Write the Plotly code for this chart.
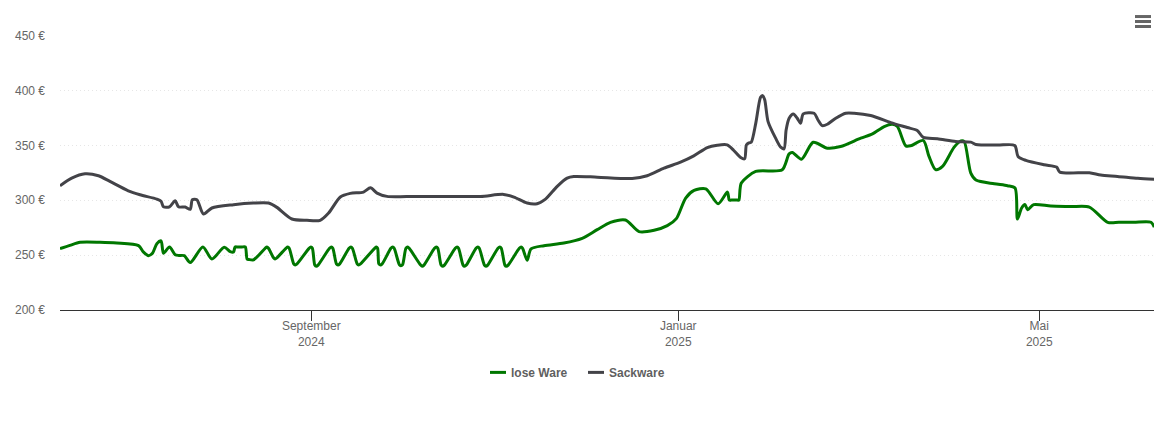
import pandas as pd
import plotly.graph_objects as go

green_days = [0, 3.3, 6.7, 13.3, 18.9, 26.1, 27.7, 29.4, 30.8, 32.2, 33.6, 34.4, 36.4, 38.3, 39.5, 41.3, 43.3, 47.5, 50.5, 54.6, 56.6, 57.7, 58.2, 59, 60.5, 61.6, 62.2, 62.8, 64.3,
              68.2, 68.8, 69.3, 71, 71.5, 72.1, 75.1, 75.7, 76.2, 77.7, 78.2, 78.8, 82.8, 83.4, 83.9, 84.7, 85.2, 85.8, 89.6, 90.2, 90.7, 91.9, 92.4, 93, 96.1, 96.7, 97.2, 98.8, 99.3, 99.9, 104.6, 105.2, 105.6, 106, 106.5, 107.1, 110, 110.6, 111.1, 112.8, 113.3, 113.9, 115, 115.6, 116.1, 119.9, 120.4, 121, 124.5, 125.1, 125.6, 126.7, 127.2, 127.8, 131.4, 132, 132.5, 134, 134.5, 135.1, 138.3, 138.9, 139.4, 141.1, 141.6, 142.2, 145.6, 146.2, 146.7, 147.9, 148.4, 149, 152.7, 153.3, 153.8,
              155.3, 156.6, 160.9, 167.5, 173.6, 178.6, 183, 188, 192.5, 197.5, 201.9, 204.9, 208, 210.8, 214.7, 218.8, 221.9, 222.5, 223.2, 225.2, 225.7, 226.5, 231.3, 240.1, 242.4, 243.5, 246.5, 250.4, 255.1, 259.5, 266.2, 270.1, 274, 276.7, 278.4, 281.2, 282.8, 287, 288.9, 291.1, 293.4, 297.2, 299.5, 300.6, 302.8, 304.5, 310.6, 315, 317.5, 318.3, 319.7, 320.8, 321.7, 323.7, 329.4, 336, 342.2, 348.3, 352, 357, 362.7, 363.8]
green_vals = [255.9, 258.9, 261.7, 261.7, 261, 258.6, 252.9, 249.5, 252, 260.4, 262.9, 251.7, 257.4, 250.4, 249.7, 249.5, 243.2, 257.4, 246.5, 257.1, 253.2, 252.9, 257.4, 257.4, 257.4, 257.4, 246.5, 246, 245.6,
              256.2, 257.4, 256.2, 247.5, 246.5, 247.5, 256.2, 257.4, 256.2, 242, 241, 242, 256.2, 257.4, 256.2, 240.9, 239.8, 240.9, 256.2, 257.4, 256.2, 242, 241, 242, 256.2, 257.4, 256.2, 242, 241, 242, 256.2, 257.4, 256.2, 242, 241, 242, 256.2, 257.4, 256.2, 241.4, 240.4, 241.4, 256.2, 257.4, 256.2, 240.9, 239.8, 240.9, 256.2, 257.4, 256.2, 240.9, 239.8, 240.9, 256.2, 257.4, 256.2, 240.9, 239.8, 240.9, 256.2, 257.4, 256.2, 240.9, 239.8, 240.9, 256.2, 257.4, 256.2, 240.9, 239.8, 240.9, 256.2, 257.4, 256.2,
              245.3, 255.6, 258.6, 261, 265.3, 273.2, 279.8, 282, 271.4, 272.6, 276.8, 283.2, 302, 309, 310.4, 296.8, 307.4, 300.1, 300.1, 300.1, 300.1, 315.6, 326.2, 327.7, 342.2, 343.4, 337.4, 352.8, 347.4, 348.9, 356.5, 360.4, 367.1, 369.2, 367.1, 349.5, 349.6, 354.4, 339.9, 327.8, 330.8, 348.1, 354.1, 353.5, 324.7, 318.4, 315, 313.2, 311.1, 282.9, 292.9, 296, 291.4, 296, 294.7, 294.2, 293.8, 279.9, 279.9, 279.9, 279.9, 275.4]

grey_days = [0, 3.9, 8.3, 12.8, 16.6, 22.7, 26.6, 32.2, 33.6, 34.4, 36.4, 38.3, 39.4, 41.6, 43.3, 44, 45.5, 47.7, 50.5, 57.7, 64.3, 69.3, 72.1, 77.1, 82.1, 86.5, 89.3, 93.2, 96.5, 100.9, 103.2, 105.4, 108.7, 118, 128, 139.8, 147.5, 150.9, 155.3, 158.6, 161.4, 165.3, 168.6, 170.8, 178.6, 190.2, 195.2, 200.8, 206.3, 210.7, 215.2, 218.5, 221.8, 224, 226.3, 227.6, 228.2, 229, 229.8, 231.3, 232.9, 233.6, 234.3, 235.4, 237.9, 239.6, 240.7, 241.4, 242.4, 243.8, 245.1, 246.2, 247.1, 250.7, 252, 253.4, 255.1, 257.9, 261.2, 264, 269.5, 276.2, 281.7, 285, 287, 291.7, 297.8, 302.8, 304.5, 311.7, 317.4, 318.5, 321.1, 327.2, 331.3, 332.4, 342.2, 346, 351.6, 358.3, 363.8]
grey_vals = [313.2, 320.1, 324.1, 322.3, 317.1, 308.6, 305, 301, 299, 294, 294, 299.5, 294, 293.8, 291.7, 300.4, 300.4, 287.4, 292.9, 295.9, 297.4, 297.4, 293.5, 282.9, 281.7, 281.7, 288.3, 302.9, 306.2, 307.4, 311.3, 306.5, 303.5, 303.5, 303.5, 303.5, 305.3, 302.9, 297.4, 296.8, 301, 312.6, 320.1, 321.6, 321, 319.8, 322.3, 329.2, 334.7, 340.4, 348, 350.1, 350.4, 345.3, 338.9, 337.7, 350.4, 352.2, 352.8, 370, 393.7, 395.3, 391.3, 371.6, 356.5, 348.3, 346.8, 364, 374.7, 378.6, 374.7, 370.1, 378.6, 379.2, 373.1, 368, 369.2, 374.7, 379.2, 379.2, 377.1, 370.7, 366.2, 363.5, 357.2, 356, 353.5, 352.9, 350.8, 350.2, 349.9, 339.9, 336.3, 332.3, 330.2, 325.6, 325, 322.9, 321.7, 319.9, 319]

tick_dates = ["2024-09-01", "2025-01-01", "2025-05-01"]
tick_labels = ["September<br>2024", "Januar<br>2025", "Mai<br>2025"]
y_ticks = [200, 250, 300, 350, 400, 450]
y_labels = ["200 €", "250 €", "300 €", "350 €", "400 €", "450 €"]
series_names = ["lose Ware", "Sackware"]
series_colors = ["#007700", "#434348"]

start = pd.Timestamp("2024-06-09 11:00")
span = 363.7


def to_dates(days):
    return start + pd.to_timedelta(days, unit="D")


FONT = "Liberation Sans, Arial, sans-serif"
fig = go.Figure()
for days, vals, name, color in zip((green_days, grey_days), (green_vals, grey_vals), series_names, series_colors):
    fig.add_trace(go.Scatter(x=to_dates(days), y=vals, name=name, mode="lines", showlegend=False,
                             line=dict(color=color, width=3, shape="spline", smoothing=0.75)))

W, H = 1164, 443
L, R, T, B = 60, 1154, 35, 310.5
xp = lambda v: (v - L) / (R - L)
yp = lambda v: (B - v) / (B - T)
shapes = [
    dict(type="line", xref="paper", yref="paper", x0=xp(1135), x1=xp(1151), y0=yp(y), y1=yp(y),
         line=dict(color="#666666", width=3))
    for y in (16.5, 21.5, 26.5)
]
annotations = []
for name, color, x0, tx in zip(series_names, series_colors, (490, 588), (511, 609)):
    shapes.append(dict(type="line", xref="paper", yref="paper", x0=xp(x0), x1=xp(x0 + 16),
                       y0=yp(373), y1=yp(373), line=dict(color=color, width=3)))
    annotations.append(dict(text=f"<b>{name}</b>", xref="paper", yref="paper", x=xp(tx), y=yp(373.5),
                            xanchor="left", yanchor="middle", showarrow=False, xshift=-2,
                            font=dict(family=FONT, size=12, color="#5f5f5f")))

fig.update_layout(
    width=W, height=H,
    margin=dict(l=L, r=W - R, t=T, b=H - B, pad=0, autoexpand=False),
    paper_bgcolor="white", plot_bgcolor="white",
    font=dict(family=FONT, size=12, color="#666666"),
    showlegend=False,
    xaxis=dict(range=[start, start + pd.Timedelta(days=span)], tickmode="array", tickvals=tick_dates,
               ticktext=tick_labels, showgrid=False, showline=True, linecolor="#333333", linewidth=1,
               ticks="outside", ticklen=10, tickcolor="#333333", tickwidth=1, zeroline=False,
               ticklabelstandoff=-5,
               tickfont=dict(family=FONT, size=12, color="#666666"), fixedrange=True),
    yaxis=dict(range=[200, 450.5], tickmode="array", tickvals=y_ticks, ticktext=y_labels,
               showgrid=True, gridcolor="#e6e6e6", griddash="1px,3px", gridwidth=1, zeroline=False,
               showline=False, ticks="", ticklabelstandoff=14,
               tickfont=dict(family=FONT, size=12, color="#666666"), fixedrange=True),
    shapes=shapes,
    annotations=annotations,
)

fig.write_html("out.html", config=dict(displayModeBar=False),
               post_script="document.body.style.margin='0';")
